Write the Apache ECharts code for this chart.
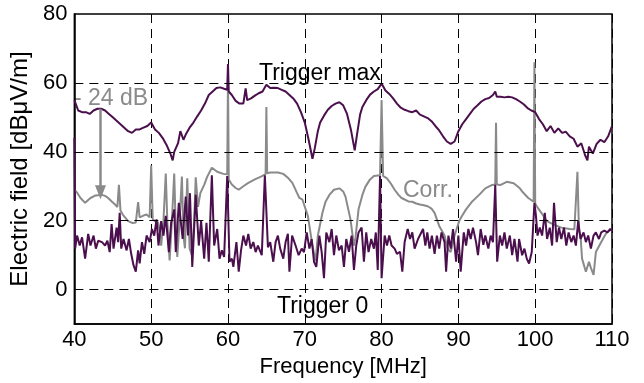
<!DOCTYPE html>
<html><head><meta charset="utf-8">
<script src="https://cdn.jsdelivr.net/npm/echarts@6/dist/echarts.min.js"></script>
<style>html,body{margin:0;padding:0;background:#fff}#c{width:644px;height:383px}</style>
</head><body><div id="c"></div>
<script>
// Frequency (MHz) / field (dBµV/m) pairs
const triggerMax = [
[40.0,55],[40.5,52],[41.0,51.5],[41.5,51.5],[42.0,51],[42.5,52],[43.0,52.5],[43.5,52.5],[44.0,52],[44.5,51],[45.0,50],[45.5,49],[46.0,48],[46.5,47],[47.0,46],[47.5,45.5],[48.0,46.5],[48.5,46.5],[49.0,47],[49.5,47.5],[50.0,48.5],[50.5,46.5],[51.0,45.5],[51.5,44],[52.0,42],[52.5,39.5],[52.8,37.5],[53.0,40],[53.5,42.5],[53.8,46],[54.2,43.5],[54.5,45],[55.0,47],[55.5,48.5],[56.0,50.3],[56.5,52],[57.0,54],[57.5,56.5],[58.0,57.5],[58.5,58.5],[59.0,58.7],[59.5,58.3],[59.9,58],[60.0,65.5],[60.1,57.5],[60.5,56.5],[61.0,54.8],[61.5,54],[62.0,54],[62.3,58.4],[62.5,55],[63.0,55.5],[63.5,56.3],[64.0,57],[64.5,57.5],[65.0,59.5],[65.5,58.5],[66.0,58.6],[66.5,58.5],[67.0,58],[67.5,57.5],[68.0,56.5],[68.5,55.5],[69.0,54],[69.5,51.5],[70.0,48.5],[70.5,43.5],[71.0,38],[71.3,41],[71.7,46],[72.0,48.5],[72.5,50.5],[73.0,52.2],[73.5,53.3],[74.0,54],[74.5,54.4],[75.0,53.5],[75.5,51],[76.0,46.5],[76.5,40.4],[76.8,45],[77.2,50.8],[77.5,53],[78.0,55],[78.5,56.6],[79.0,57.5],[79.5,58.2],[80.0,59.8],[80.5,57.8],[81.0,56.8],[81.5,55.5],[82.0,54],[82.5,52.8],[83.0,52.2],[83.5,51.8],[84.0,51.5],[84.5,52],[85.0,50.8],[85.5,50.3],[86.0,49.8],[86.5,48.9],[87.0,47.5],[87.5,46.2],[88.0,44.5],[88.5,43],[89.0,42.3],[89.5,43],[90.0,46],[90.5,48],[91.0,49.5],[91.5,51],[92.0,52.5],[92.5,53.5],[93.0,54.6],[93.5,55.3],[94.0,55.6],[94.5,56.5],[94.8,57.5],[95.0,56],[95.5,56],[96.0,55.8],[96.5,56],[97.0,55.8],[97.5,55.3],[98.0,54.6],[98.5,53.8],[99.0,52.7],[99.5,52],[100.0,51.5],[100.5,49.5],[101.0,48],[101.5,46],[102.0,47.5],[102.5,45.5],[103.0,46.8],[103.5,45.5],[104.0,45.8],[104.5,44.5],[105.0,43.8],[105.5,41.5],[106.0,42.5],[106.5,39],[106.8,37.5],[107.0,41.5],[107.5,39.5],[108.0,42.3],[108.5,43.5],[109.0,42.8],[109.5,44.5],[110.0,47.5]
];
const corr = [
[40.0,29.1],[40.4,28],[40.8,26.6],[41.4,25.2],[41.8,26],[42.1,26.6],[42.7,27.3],[43.6,27.5],[44.0,27.2],[44.4,26.6],[44.9,25.5],[45.3,24.7],[45.6,24],[45.8,30.4],[46.0,23],[46.3,21.8],[47.0,19.9],[47.6,19.3],[48.0,19.5],[48.3,25.4],[48.5,21],[48.7,20.9],[49.0,21.5],[49.4,21.8],[49.8,21],[50.0,36],[50.2,20.5],[50.5,19.8],[50.9,19.5],[51.1,17],[51.3,12.8],[51.6,20],[51.9,33.7],[52.1,20],[52.4,8.5],[52.7,20],[53.0,33.7],[53.2,18],[53.4,9.5],[53.7,20],[54.0,32.8],[54.2,15.7],[54.4,12],[54.7,32.3],[55.0,12],[55.3,10],[55.6,20],[55.8,32.6],[56.1,24],[56.4,28],[56.9,30.4],[57.3,32.8],[57.9,35.4],[58.6,34.2],[59.4,33.6],[59.9,33.5],[60.0,62],[60.1,32],[60.5,30.5],[61.0,29.5],[61.4,29],[62.0,30],[62.6,30.9],[63.5,32],[64.3,32.8],[64.9,33.5],[65.0,53],[65.1,33.8],[65.5,34],[66.0,34],[66.5,34],[67.2,33.6],[67.8,32.5],[68.4,30.9],[69.0,28],[69.3,26.6],[69.7,26.1],[70.4,21.4],[71.0,12.8],[71.4,8.3],[71.7,15.7],[72.3,22.3],[72.7,25.5],[73.2,27.5],[73.8,29],[74.5,29.4],[75.0,28.5],[75.3,27],[75.95,20.4],[76.4,12.8],[76.6,15],[77.0,23.3],[77.5,27.5],[77.9,29.9],[78.5,32],[79.0,33],[79.8,33.2],[80.0,55],[80.2,33],[80.7,32.3],[81.2,30.8],[81.7,29],[82.2,27.5],[82.6,26.6],[83.5,25.6],[84.0,25.5],[84.5,25],[85.0,24.7],[85.5,24.5],[86.0,24.2],[86.5,23.5],[86.9,22.3],[87.5,18.5],[88.2,15.7],[88.6,11.9],[89.0,10.9],[89.5,15.7],[90.1,19.9],[90.5,21.5],[91.0,23.3],[91.8,25.6],[92.7,27.5],[93.5,29.4],[94.4,30.4],[94.8,30.5],[94.9,48.4],[95.0,30.5],[95.5,30.4],[96.3,31.3],[97.2,30.9],[98.0,29.4],[98.3,28.5],[99.1,26.6],[99.8,25.5],[99.9,66],[100.0,25],[100.2,24.2],[100.8,22.3],[101.5,19.9],[102.3,19],[103.4,18],[104.5,17.6],[105.1,17.5],[105.5,34.2],[105.7,17],[105.9,15.7],[106.1,9],[106.6,5.2],[107.0,8.1],[107.3,6],[107.6,4.3],[107.9,10.9],[108.6,13.8],[109.2,16.2],[109.8,17.6],[110,17]
];
const trigger0 = [
[40.0,44],[40.1,11.9],[40.35,15.7],[40.7,12.8],[41.0,15.2],[41.4,9.0],[41.8,16.2],[42.1,12.8],[42.5,15.7],[42.8,11.9],[43.1,14.2],[43.6,13.8],[44.0,12.8],[44.3,14.2],[44.6,10.9],[44.85,19],[45.1,11.9],[45.5,18],[45.7,13.8],[45.9,22.3],[46.1,11.9],[46.4,14.7],[46.8,11.4],[47.1,14.7],[47.4,10.4],[47.7,7.1],[48.0,5.2],[48.3,11.4],[48.5,7.6],[48.8,13.8],[49.1,10.4],[49.4,15.7],[49.8,13.8],[50.1,17.6],[50.4,15.7],[50.7,20.4],[50.95,12.8],[51.3,19.9],[51.6,15.7],[51.9,21.4],[52.3,10.9],[52.6,19.4],[53.0,23.3],[53.2,10.9],[53.6,25.2],[54.1,14.7],[54.5,27],[54.8,15.7],[55.05,28],[55.35,6.6],[55.8,27.5],[56.2,12.8],[56.5,19.9],[56.9,9.0],[57.2,19.4],[57.5,8.1],[57.9,33.2],[58.2,12.8],[58.6,17.6],[58.9,9.0],[59.2,11.4],[59.5,9.5],[59.9,33],[60.2,8.1],[60.5,9],[60.7,6.6],[61.1,13.8],[61.4,5.2],[61.7,11.4],[62.0,15.7],[62.35,12.8],[62.65,16.2],[62.95,11.9],[63.3,13.8],[63.6,10.9],[63.9,12.8],[64.4,10],[64.8,33.2],[65.2,12.3],[65.5,13.8],[65.9,8.1],[66.2,13.8],[66.5,15.7],[66.8,11.9],[67.2,9],[67.5,13.8],[67.8,16.2],[68.0,5.2],[68.35,15.7],[68.8,12.8],[69.2,10],[69.6,11.9],[69.9,10.9],[70.25,16.6],[70.6,11.9],[70.9,14.7],[71.2,8.1],[71.5,6.6],[71.9,15.7],[72.2,10.9],[72.5,3.3],[72.8,16.6],[73.2,13.8],[73.5,17.6],[73.8,10],[74.1,15.7],[74.45,11.4],[74.8,12.8],[75.1,6.6],[75.4,14.7],[75.75,11],[76.1,15.7],[76.4,5.7],[76.7,12.8],[77.0,16.6],[77.4,18],[77.7,8.1],[78.0,16.6],[78.3,10.9],[78.65,14.7],[79.0,11.9],[79.25,16.6],[79.5,5.7],[79.8,33],[80.0,3.3],[80.4,15.7],[80.7,12.8],[81.0,15.7],[81.3,12.8],[81.7,11.9],[82.0,10.4],[82.4,11],[82.7,5.2],[83.0,13.8],[83.4,17.6],[83.7,14.7],[84.0,16.6],[84.3,11.9],[84.75,14.7],[85.4,17.6],[85.7,12.8],[85.95,16.6],[86.25,11.9],[86.55,15.7],[86.9,10.4],[87.2,15.7],[87.5,11.9],[87.8,16.6],[88.2,13.8],[88.4,5.2],[88.7,15.7],[89.0,11.9],[89.3,17.6],[89.7,8.1],[90.0,15.7],[90.3,5.2],[90.7,16.6],[91.0,12.8],[91.3,17.6],[91.6,14.7],[91.9,18],[92.3,13.8],[92.55,10],[92.9,17.6],[93.25,13],[93.5,15.7],[93.9,11.9],[94.2,15.7],[94.5,13.8],[94.8,30.4],[95.05,8.1],[95.4,15.7],[95.7,12.8],[96.0,16.6],[96.3,11.9],[96.7,15.7],[97.0,10],[97.3,14.7],[97.7,8.1],[97.9,14.7],[98.3,10],[98.6,11.9],[98.9,9],[99.2,7.6],[99.55,10.9],[99.9,25.2],[100.1,21.4],[100.3,15.7],[100.6,18],[100.9,15.7],[101.25,22.3],[101.55,14.7],[101.9,18],[102.2,12.8],[102.45,25.2],[102.8,13.8],[103.1,18],[103.4,14.7],[103.75,18],[104.05,12.8],[104.35,16.6],[104.7,13.8],[105.0,15.7],[105.3,12.8],[105.6,19.9],[105.9,14.7],[106.3,16.6],[106.6,13.8],[106.9,15.7],[107.25,11.9],[107.6,15.7],[107.9,16.6],[108.3,14.7],[108.6,16.6],[109.0,17.1],[109.4,16.6],[109.8,17.6],[110,17]
];
const yGridValues = [0, 20, 40, 60];
const yLabelValues = [0, 20, 40, 60, 80];
const arrowFrom = [43.4, 52.5];
const arrowTo = [43.4, 28.3];

const PURPLE = '#4a0f4c', GRAY = '#8a8a8a';
const FONT = 'Liberation Sans';
const chart = echarts.init(document.getElementById('c'));
chart.setOption({
  animation: false,
  textStyle: {fontFamily: FONT},
  grid: {left: 69, right: 32, top: 14, bottom: 55, show: true, borderColor: '#000', borderWidth: 1.5, backgroundColor: 'transparent'},
  xAxis: {
    type: 'value', min: 40, max: 110, interval: 10,
    name: 'Frequency [MHz]', nameLocation: 'middle', nameGap: 31,
    nameTextStyle: {fontSize: 22, color: '#000', fontFamily: FONT},
    axisLine: {onZero: false, lineStyle: {color: '#000', width: 1.5}},
    axisTick: {show: false},
    axisLabel: {fontSize: 22, color: '#000', margin: 5, fontFamily: FONT},
    splitLine: {show: true, lineStyle: {color: '#000', type: [9, 6], width: 1}}
  },
  yAxis: {
    type: 'value', min: -10, max: 80, interval: 10,
    name: 'Electric field [dBμV/m]', nameLocation: 'middle', nameGap: 36,
    nameTextStyle: {fontSize: 24, color: '#000', fontFamily: FONT},
    axisLine: {onZero: false, lineStyle: {color: '#000', width: 1.5}},
    axisTick: {show: false},
    axisLabel: {fontSize: 22, color: '#000', margin: 7, fontFamily: FONT,
      formatter: v => yLabelValues.includes(v) ? String(v) : ''},
    splitLine: {show: false}
  },
  series: [
    {type: 'line', data: [], silent: true, z: 1,
     markLine: {silent: true, symbol: 'none', label: {show: false},
       lineStyle: {color: '#000', type: [9, 6], width: 1},
       data: yGridValues.map(v => ({yAxis: v}))}},
    {name: 'Corr', type: 'line', data: corr, showSymbol: false, z: 2,
     lineStyle: {color: GRAY, width: 2}, itemStyle: {color: GRAY},
     markLine: {silent: true, symbol: ['none', 'triangle'], symbolSize: [11, 14], label: {show: false},
       lineStyle: {color: GRAY, width: 2.5, type: 'solid'},
       data: [[{coord: arrowFrom}, {coord: arrowTo}]]}},
    {name: 'Trigger 0', type: 'line', data: trigger0, showSymbol: false, z: 3,
     lineStyle: {color: PURPLE, width: 2}, itemStyle: {color: PURPLE}},
    {name: 'Trigger max', type: 'line', data: triggerMax, showSymbol: false, z: 4,
     lineStyle: {color: PURPLE, width: 2}, itemStyle: {color: PURPLE}}
  ],
  graphic: [
    {type: 'text', left: 259, top: 62, style: {text: 'Trigger max', fontSize: 23, fill: '#000', fontFamily: FONT}},
    {type: 'text', left: 403, top: 179, style: {text: 'Corr.', fontSize: 23, fill: GRAY, fontFamily: FONT}},
    {type: 'text', left: 277, top: 295, style: {text: 'Trigger 0', fontSize: 23, fill: '#000', fontFamily: FONT}},
    {type: 'text', left: 74, top: 87, style: {text: '- 24 dB', fontSize: 23, fill: GRAY, fontFamily: FONT}}
  ]
});
</script></body></html>
